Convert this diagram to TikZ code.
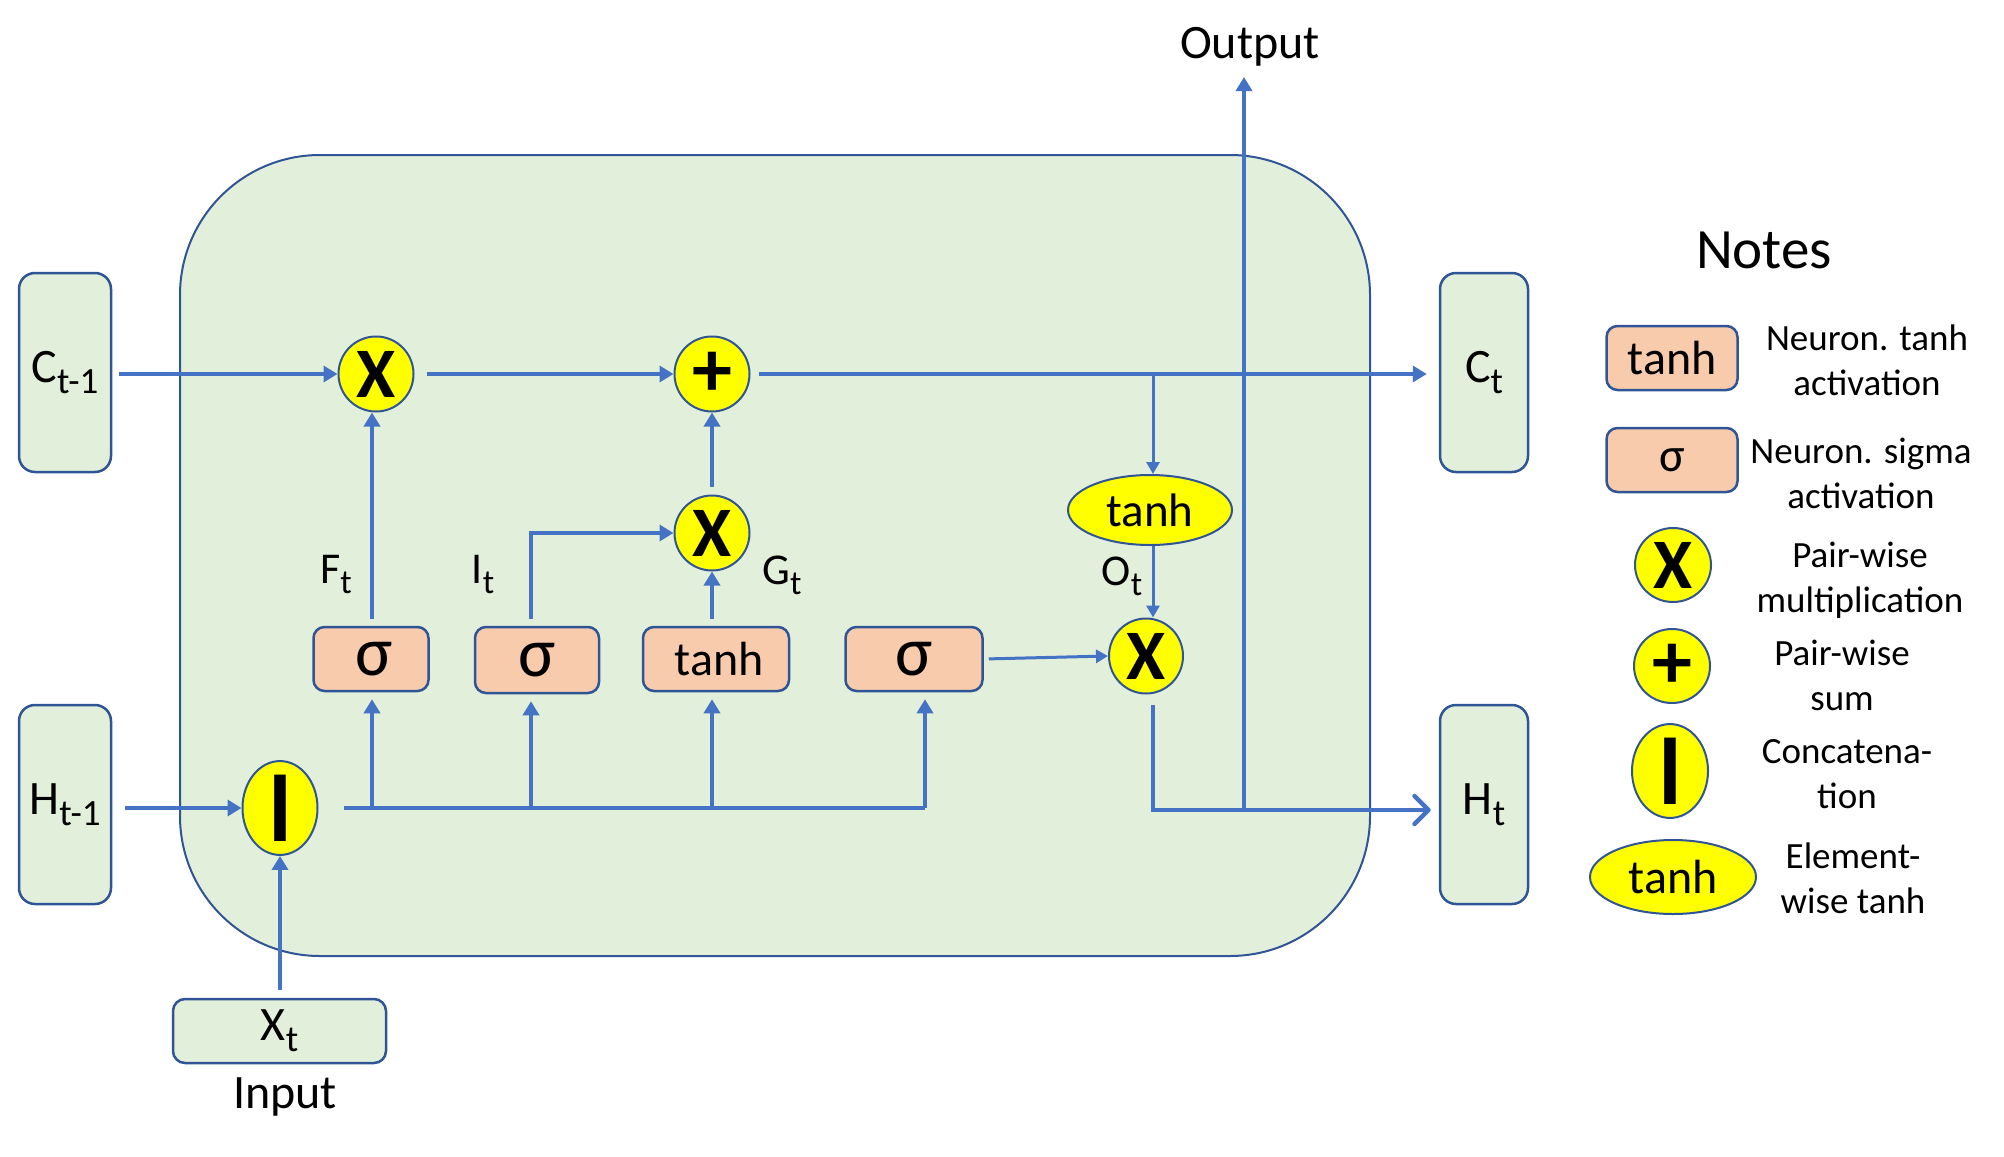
\documentclass[tikz,border=0pt]{standalone}
\usepackage{fontspec}
\setmainfont{Carlito}
\usetikzlibrary{arrows.meta,shapes.geometric,calc}

\definecolor{flowblue}{HTML}{4472C4}
\definecolor{rimblue}{HTML}{2F5597}
\definecolor{cellgreen}{HTML}{E2EFDA}
\definecolor{peach}{HTML}{F8CBAD}
\definecolor{opyellow}{HTML}{FFFF00}

\newcommand\fs[1]{\fontsize{#1}{#1}\selectfont}
\newcommand\subl[2]{{\fs{44}#1}\raisebox{-10pt}{\fs{34}#2}}
\newcommand\subp[2]{{\fs{48}#1}\raisebox{-11pt}{\fs{37}#2}}
\newcommand\mulsym{{\fs{71}\bfseries X}}
\newcommand\addsym{{\fs{80}\bfseries +}}
\newcommand\catsym{\scalebox{1.4}[1.6]{\fs{64}\bfseries I}}

\tikzset{
  cellbox/.style={draw=rimblue, line width=2pt, fill=cellgreen, rounded corners=140pt, inner sep=0pt},
  port/.style={draw=rimblue, line width=2.5pt, fill=cellgreen, rounded corners=16pt, inner sep=0pt},
  neuron/.style={draw=rimblue, line width=2.5pt, fill=peach, rounded corners=11pt, inner sep=0pt, minimum height=64pt},
  op/.style={ellipse, draw=rimblue, line width=2pt, fill=opyellow, inner sep=0pt},
  flow/.style={draw=flowblue, line width=4.5pt, -{Triangle[length=14pt,width=16pt]}},
  thinflow/.style={draw=flowblue, line width=3pt, -{Triangle[length=12pt,width=13pt]}},
  outflow/.style={draw=flowblue, line width=4.5pt, -{Straight Barb[length=14pt,width=28pt,round]}},
  wire/.style={draw=flowblue, line width=4.5pt},
  caption/.style={font=\fs{48}, inner sep=0pt},
  tag/.style={inner sep=0pt},
  note/.style={font=\fontsize{37}{45}\selectfont, align=center, inner sep=0pt}
}

\begin{document}
\begin{tikzpicture}[x=1pt, y=-1pt]
\useasboundingbox (0,0) rectangle (2004,1156);

% LSTM cell body
\node[cellbox, minimum width=1190pt, minimum height=801pt] (cell) at (775,555.5) {};

% states in and out
\node[port, minimum width=92pt, minimum height=199pt] (cprev) at (65,372.5) {\subp{C}{t-1}};
\node[port, minimum width=92pt, minimum height=199pt] (hprev) at (65,804.5) {\subp{H}{t-1}};
\node[port, minimum width=88pt, minimum height=199pt] (cnext) at (1484,372.5) {\subp{C}{t}};
\node[port, minimum width=88pt, minimum height=199pt] (hnext) at (1484,804.5) {\subp{H}{t}};
\node[port, minimum width=213pt, minimum height=64pt, rounded corners=12pt] (xin) at (279.5,1031) {\subp{X}{t}};
\node[caption] (inlabel) at (285,1097) {Input};
\node[caption] (outlabel) at (1250,47) {Output};

% pointwise operations
\node[op, minimum width=75pt, minimum height=75pt] (mul1) at (376,374) {\mulsym};
\node[op, minimum width=75pt, minimum height=75pt] (add) at (712,374) {\addsym};
\node[op, minimum width=75pt, minimum height=75pt] (mul2) at (712,533) {\mulsym};
\node[op, minimum width=75pt, minimum height=76pt] (cat) at (280,808) {\catsym};
\node[op, minimum width=74pt, minimum height=75pt] (mul3) at (1146,656) {\mulsym};
\node[op, minimum width=164pt, minimum height=70pt] (eth) at (1150,510) {\fs{47}tanh};

% neuron layers
\node[neuron, minimum width=115pt] (s1) at (371,659) {\fs{70}\hspace{6pt}σ};
\node[neuron, minimum width=124pt, minimum height=66pt] (s2) at (537,660) {\fs{70}σ};
\node[neuron, minimum width=146pt] (th) at (716,659) {\fs{48}\hspace{6pt}tanh};
\node[neuron, minimum width=137pt] (s3) at (914,659) {\fs{70}σ};

% gate labels
\node[tag] (flab) at (336,575) {\subl{F}{t}};
\node[tag] (ilab) at (483,575) {\subl{I}{t}};
\node[tag] (glab) at (782,575) {\subl{G}{t}};
\node[tag] (olab) at (1122,576) {\subl{O}{t}};

% junction points
\coordinate (tap) at (1153,374);
\coordinate (hjoin) at (1153,810);
\coordinate (outfoot) at (1244,810);
\coordinate (outtip) at (1244,77);
\coordinate (b1) at (372,808);
\coordinate (b2) at (531,808);
\coordinate (b3) at (712,808);
\coordinate (busend) at (925,808);

% cell state path
\draw[flow, shorten <=7pt] (cprev.east |- mul1) -- (mul1.west);
\draw[flow, shorten <=12pt] (mul1.east) -- (add.west);
\draw[flow, shorten <=8pt, shorten >=12pt] (add.east) -- (cnext.west |- add.east);
\draw[thinflow] (tap) -- (tap |- eth.north);
\draw[thinflow] (tap |- eth.south) -- (tap |- mul3.north);
\draw[thinflow, shorten <=5pt] (s3.east) -- (mul3.west);
\draw[outflow, shorten <=10pt, shorten >=8pt] (tap |- mul3.south) -- (hjoin) -- (hnext.west |- hjoin);
\draw[flow] (outfoot) -- (outtip);

% gates
\draw[flow, shorten <=7pt] (s1.north -| b1) -- (b1 |- mul1.south);
\draw[flow, shorten <=7pt] (s2.north -| b2) -- (b2 |- mul2) -- (mul2.west);
\draw[flow, shorten <=7pt] (th.north -| mul2) -- (mul2.south);
\draw[flow, shorten <=8pt] (mul2.north) -- (add.south);

% inputs and concatenated bus
\draw[flow, shorten <=13pt] (hprev.east |- cat) -- (cat.west);
\draw[flow, shorten <=8pt] (xin.north -| cat) -- (cat.south);
\draw[wire, shorten <=25pt] (cat.east) -- (busend);
\draw[flow, shorten >=7pt] (busend) -- (busend |- s3.south);
\draw[flow, shorten >=7pt] (b1) -- (b1 |- s1.south);
\draw[flow, shorten >=7pt] (b2) -- (b2 |- s2.south);
\draw[flow, shorten >=7pt] (b3) -- (b3 |- th.south);

% legend
\node[font=\fs{57}, inner sep=0pt] (notes) at (1764,250) {Notes};
\node[neuron, minimum width=131pt] (ktanh) at (1672,358) {\fs{48}tanh};
\node[note] (dtanh) at (1867,360) {Neuron. tanh\\activation};
\node[neuron, minimum width=131pt] (ksig) at (1672,460) {\fs{48}σ};
\node[note] (dsig) at (1861,473) {Neuron. sigma\\activation};
\node[op, minimum width=76pt, minimum height=74pt] (kmul) at (1673,565) {\mulsym};
\node[note] (dmul) at (1860,580) {Pair-wise\\multiplication};
\node[op, minimum width=76pt, minimum height=74pt] (kadd) at (1672,666) {\addsym};
\node[note] (dadd) at (1842,675) {Pair-wise\\sum};
\node[op, minimum width=76pt, minimum height=74pt] (kcat) at (1670,771) {\catsym};
\node[note] (dcat) at (1847,774) {Concatena-\\tion};
\node[op, minimum width=166pt, minimum height=74pt] (keth) at (1673,877) {\fs{48}tanh};
\node[note] (deth) at (1853,878) {Element-\\wise tanh};
\end{tikzpicture}
\end{document}
